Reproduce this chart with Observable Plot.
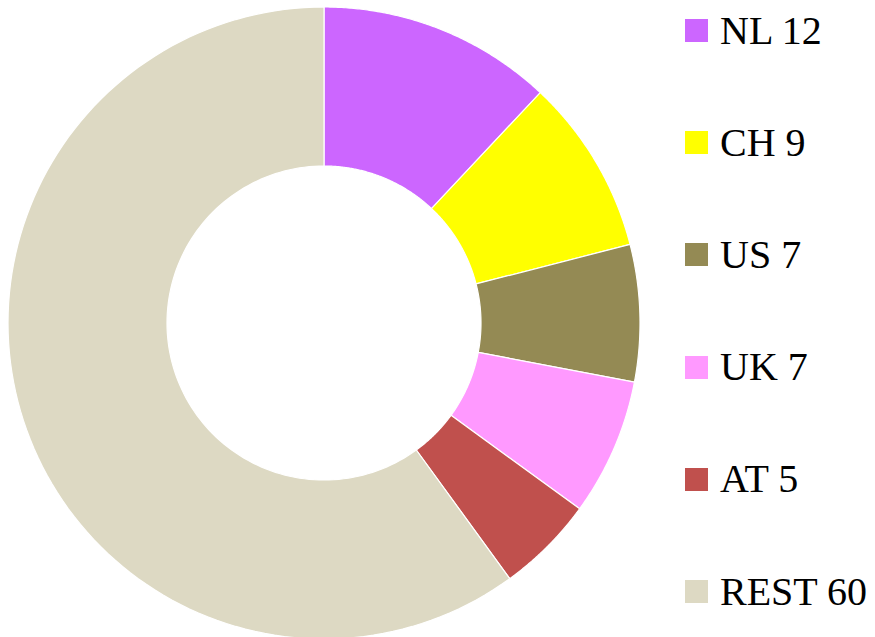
<!DOCTYPE html>
<html>
<head>
<meta charset="utf-8">
<script src="https://cdn.jsdelivr.net/npm/d3@7"></script>
<script src="https://cdn.jsdelivr.net/npm/@observablehq/plot@0.6"></script>
<style>
  html, body { margin: 0; padding: 0; background: #fff; }
  #wrap { position: relative; width: 875px; height: 637px; overflow: hidden; }
  #legend { position: absolute; left: 685px; top: 0; font-family: "Liberation Serif", serif; font-size: 40px; color: #000; }
  .item { position: absolute; left: 0; height: 40px; line-height: 40px; display: flex; align-items: center; white-space: nowrap; }
  .sw { width: 23px; height: 23px; margin-right: 12px; flex: none; }
</style>
</head>
<body>
<div id="wrap"><div id="legend"></div></div>
<script>
const countries = ["NL", "CH", "US", "UK", "AT", "REST"];
const shares = [12, 9, 7, 7, 5, 60];
const colors = ["#CC66FF", "#FFFF00", "#948A54", "#FF99FF", "#C0504D", "#DDD9C3"];

const innerR = 157 / 316;
const outerR = 1;
const total = d3.sum(shares);

// Build annular sector outlines from the slice angles
const rows = [];
let acc = 0;
countries.forEach((c, i) => {
  const a0 = acc / total * 2 * Math.PI;
  acc += shares[i];
  const a1 = acc / total * 2 * Math.PI;
  const n = 120;
  for (let k = 0; k <= n; k++) {
    const a = a0 + (a1 - a0) * k / n;
    rows.push({
      slice: c,
      ix: innerR * Math.sin(a), iy: innerR * Math.cos(a),
      ox: outerR * Math.sin(a), oy: outerR * Math.cos(a)
    });
  }
});

const chart = Plot.plot({
  width: 875,
  height: 637,
  margin: 0,
  x: { domain: [-1, 1], range: [8, 640], axis: null },
  y: { domain: [-1, 1], range: [639, 7], axis: null },
  color: { domain: countries, range: colors },
  marks: [
    Plot.area(rows, {
      x1: "ix", y1: "iy", x2: "ox", y2: "oy",
      z: "slice", fill: "slice",
      stroke: "white", strokeWidth: 1.2, strokeLinejoin: "round"
    })
  ]
});
document.getElementById("wrap").prepend(chart);

const legend = document.getElementById("legend");
countries.forEach((c, i) => {
  const item = document.createElement("div");
  item.className = "item";
  item.style.top = (30.5 + i * 112.2 - 20) + "px";
  const sw = document.createElement("div");
  sw.className = "sw";
  sw.style.background = colors[i];
  const t = document.createElement("span");
  t.textContent = c + " " + shares[i];
  item.appendChild(sw);
  item.appendChild(t);
  legend.appendChild(item);
});
</script>
</body>
</html>
